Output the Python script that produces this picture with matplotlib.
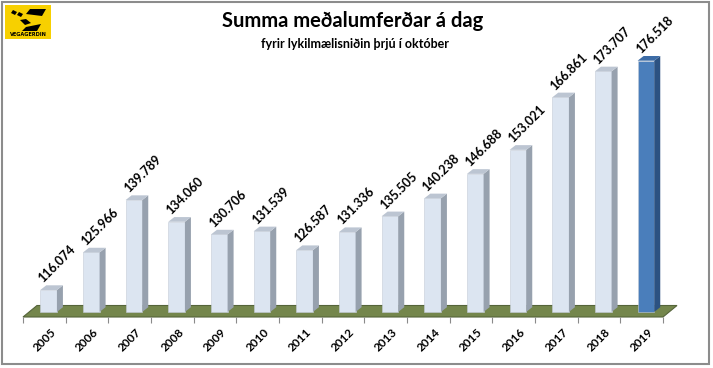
import matplotlib
matplotlib.use("Agg")
import matplotlib.pyplot as plt
import matplotlib.patches as mpatches
from matplotlib.transforms import ScaledTranslation

# data
years = ['2005', '2006', '2007', '2008', '2009', '2010', '2011', '2012',
         '2013', '2014', '2015', '2016', '2017', '2018', '2019']
values = [116074, 125966, 139789, 134060, 130706, 131539, 126587, 131336,
          135505, 140238, 146688, 153021, 166861, 173707, 176518]
value_labels = ['{:,}'.format(v).replace(',', '.') for v in values]

W, H = 713, 368
fig = plt.figure(figsize=(W / 100, H / 100), dpi=100)

# axes placed in pixel terms: x from 23 to 663 px, y from 317 to 50 px
ax_l, ax_r, ax_b, ax_t = 23, 663, 317, 50
ax = fig.add_axes([ax_l / W, (H - ax_b) / H, (ax_r - ax_l) / W, (ax_b - ax_t) / H])

n = len(years)
upx = (ax_r - ax_l) / n          # pixels per category
vpx = 263.6                      # value units per pixel
y_bot = 108957
y_top = y_bot + (ax_b - ax_t) * vpx
ax.set_xlim(-0.5, n - 0.5)
ax.set_ylim(y_bot, y_top)

# floor
fdx, fdy = 14 / upx, 11.5 * vpx
floor = mpatches.Polygon([(-0.5, y_bot), (n - 0.5, y_bot),
                          (n - 0.5 + fdx, y_bot + fdy), (-0.5 + fdx, y_bot + fdy)],
                         closed=True, facecolor='#74864c', edgecolor='#55643a',
                         lw=0.8, clip_on=False, zorder=1)
ax.add_patch(floor)

# 3d-looking bars
base = 110300
off, bw = 0.1, 0.39
ddx, ddy = 6 / upx, 4.7 * vpx
x = list(range(n))
front = ['#dce5f1'] * (n - 1) + ['#4a7ebb']
side = ['#97a1ae'] * (n - 1) + ['#2c5282']
top = ['#bcc5d2'] * (n - 1) + ['#3d6ca6']

ax.bar([i + off for i in x], [v - base for v in values], bottom=base, width=bw,
       color=front, edgecolor='#c4ccd8', linewidth=0.4, zorder=3, clip_on=False)
for i, v in enumerate(values):
    xl = i + off - bw / 2
    xr = i + off + bw / 2
    ax.add_patch(mpatches.Polygon([(xr, base), (xr + ddx, base + ddy), (xr + ddx, v + ddy), (xr, v)],
                                  closed=True, facecolor=side[i], edgecolor='none',
                                  zorder=3, clip_on=False))
    ax.add_patch(mpatches.Polygon([(xl, v), (xr, v), (xr + ddx, v + ddy), (xl + ddx, v + ddy)],
                                  closed=True, facecolor=top[i], edgecolor='none',
                                  zorder=3, clip_on=False))
    ax.text(i + off + 0.2, v + 26 * vpx, value_labels[i], rotation=45,
            ha='center', va='center', rotation_mode='anchor',
            fontsize=9, fontweight='bold', family='Lato', zorder=4)

# axis and ticks
for s in ax.spines.values():
    s.set_visible(False)
ax.set_yticks([])
ax.set_xticks(x)
ax.set_xticklabels(years, rotation=45, ha='right', va='top', rotation_mode='anchor',
                   fontsize=8.5, fontweight='bold', family='Lato')
ax.set_xticks([i - 0.5 for i in range(n + 1)], minor=True)
ax.tick_params(axis='x', which='major', length=0, pad=7)
ax.tick_params(axis='x', which='minor', length=4.5, color='#8a8a8a', width=0.8)
shift = ScaledTranslation(4 / 72, 0, fig.dpi_scale_trans)
for lbl in ax.get_xticklabels():
    lbl.set_transform(lbl.get_transform() + shift)
ax.set_facecolor('none')

# titles
fig.text(353 / W, 1 - 21 / H, 'Summa meðalumferðar á dag', ha='center', va='center',
         fontsize=14.5, fontweight='bold', family='Lato')
fig.text(355 / W, 1 - 44 / H, 'fyrir lykilmælisniðin þrjú í október', ha='center', va='center',
         fontsize=9, fontweight='bold', family='Lato')

# logo
def px(xp, yp):
    return (xp / W, 1 - yp / H)

fig.patches.append(mpatches.Rectangle(px(5, 39), 46 / W, 34 / H, transform=fig.transFigure,
                                      facecolor='#f7d000', edgecolor='none'))
for poly in ([(11, 13), (13, 10), (17, 12), (15, 15)],
             [(17, 15), (19, 12), (23, 14), (21, 17)],
             [(26, 14), (30, 9), (46, 9), (42, 16)],
             [(20, 20), (26, 19), (31, 23), (25, 25)],
             [(26, 27), (41, 24), (37, 31), (22, 31)]):
    fig.patches.append(mpatches.Polygon([px(a, b) for a, b in poly], closed=True,
                                        transform=fig.transFigure, facecolor='black'))
fig.text(28 / W, 1 - 34.5 / H, 'VEGAGERDIN', ha='center', va='center', fontsize=3.6,
         fontweight='bold', family='DejaVu Sans')

# border
fig.patches.append(mpatches.Rectangle(px(2, 364), 707 / W, 362 / H, transform=fig.transFigure,
                                      facecolor='none', edgecolor='#8c8c8c', lw=1.5))

fig.savefig('out.png', dpi=100)
